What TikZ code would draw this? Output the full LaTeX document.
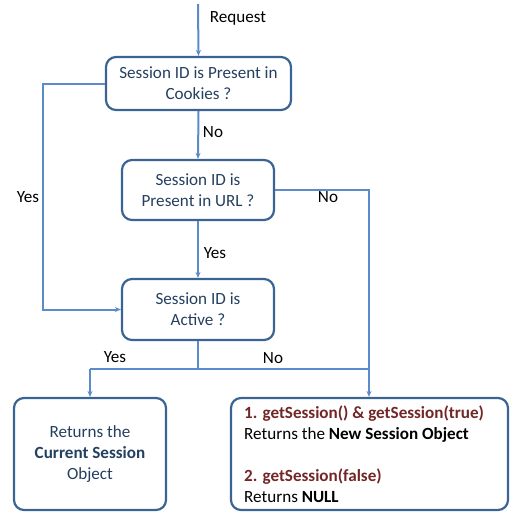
\documentclass[tikz,border=0pt]{standalone}
\usepackage{fontspec}
\setmainfont{Carlito}
\usetikzlibrary{arrows.meta}
\definecolor{boxline}{HTML}{3B6494}
\definecolor{conn}{HTML}{5B8BC8}
\definecolor{boxtext}{HTML}{243F60}
\definecolor{redtext}{HTML}{722626}
\tikzset{
  flowbox/.style={draw=boxline, line width=2.2pt, rounded corners=10pt, inner sep=0pt, text=boxtext, align=center, font=\fontsize{17.1}{21}\selectfont},
  conline/.style={draw=conn, line width=2pt},
  arr/.style={conline, -{Stealth[length=6pt,width=5pt]}},
  lbl/.style={font=\fontsize{17.1}{18}\selectfont, text=black, inner sep=0pt}
}
\begin{document}
\begin{tikzpicture}[x=1pt,y=-1pt]
\useasboundingbox (0,0) rectangle (520,525);
\node[flowbox, minimum width=185pt, minimum height=53pt] (b1) at (198.5,83.5) {Session ID is Present in\\Cookies ?};
\node[flowbox, minimum width=152pt, minimum height=60pt] (b2) at (198,190) {Session ID is\\Present in URL ?};
\node[flowbox, minimum width=152pt, minimum height=61pt] (b3) at (198,309.5) {Session ID is\\Active ?};
\node[flowbox, minimum width=152pt, minimum height=112pt] (b4) at (90,454) {Returns the\\\textbf{Current Session}\\Object};
\node[flowbox, minimum width=277pt, minimum height=112pt] (b5) at (369.5,454) {};
\node[anchor=north west, inner sep=0pt, align=left, text=black, font=\fontsize{17.1}{20.8}\selectfont] (b5t) at (244,406) {\textcolor{redtext}{\textbf{1. getSession() \& getSession(true)}}\\Returns the \textbf{New Session Object}\\[20.8pt]\textcolor{redtext}{\textbf{2. getSession(false)}}\\Returns \textbf{NULL}};

\coordinate (start) at (198,4);
\coordinate (l1) at (43,83.5);
\coordinate (l2) at (43,309.5);
\coordinate (r1) at (369,190);
\coordinate (j) at (198,369);
\coordinate (jl) at (90,369);
\coordinate (jr) at (369,369);

\draw[arr] (start) -- (b1.north);
\draw[arr] (b1.south) -- (b2.north);
\draw[arr] (b2.south) -- (b3.north);
\draw[arr] (b1.west) -- (l1) -- (l2) -- (b3.west);
\draw[arr] (b2.east) -- (r1) -- (b5.north -| r1);
\draw[conline] (b3.south) -- (j);
\draw[conline] (jl) -- (jr);
\draw[arr] (jl) -- (b4.north);

\node[lbl] (req) at (238,18) {Request};
\node[lbl] (no1) at (213,132) {No};
\node[lbl] (yes1) at (28,197) {Yes};
\node[lbl] (no2) at (328,197) {No};
\node[lbl] (yes2) at (215,253) {Yes};
\node[lbl] (yes3) at (115,357) {Yes};
\node[lbl] (no3) at (273,358) {No};
\end{tikzpicture}
\end{document}
